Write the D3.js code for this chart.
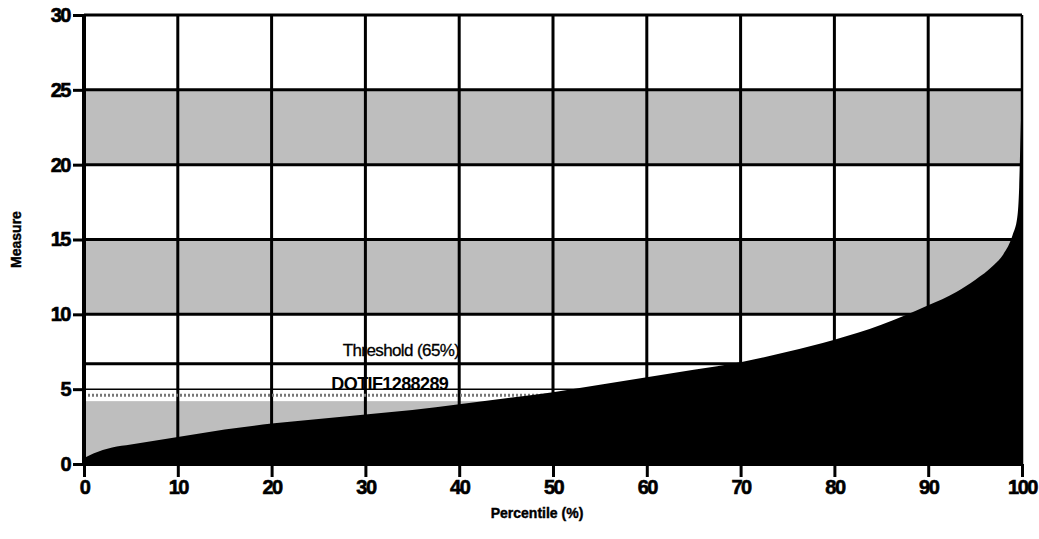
<!DOCTYPE html>
<html>
<head>
<meta charset="utf-8">
<script src="https://cdn.jsdelivr.net/npm/d3@7"></script>
<style>
  html, body { margin: 0; padding: 0; background: #fff; }
  svg { display: block; }
  .tick text { font-family: "Liberation Sans Narrow", "Liberation Sans", Arial, sans-serif; font-weight: bold; }
</style>
</head>
<body>
<svg id="chart" width="1039" height="539"></svg>
<script>
// ---- data ----
const percentile = [0, 1, 3, 5, 10, 15, 20, 25, 30, 35, 40, 45, 50, 55, 60, 65, 70, 75, 80, 85, 90, 93, 95, 97, 98, 99, 99.5, 99.7, 99.85, 100];
const measure    = [0.4, 0.7, 1.1, 1.3, 1.8, 2.3, 2.7, 3.0, 3.3, 3.6, 4.0, 4.4, 4.8, 5.3, 5.8, 6.3, 6.8, 7.5, 8.3, 9.3, 10.6, 11.5, 12.3, 13.3, 14.0, 15.3, 16.5, 18.5, 22, 25];
const xTicks = [0, 10, 20, 30, 40, 50, 60, 70, 80, 90, 100];
const yTicks = [0, 5, 10, 15, 20, 25, 30];
const bandLow  = [0, 10, 20];
const bandHigh = [4.2, 15, 25];
const thresholdValue = 6.7;
const thresholdLabel = "Threshold (65%)";
const sampleValue = 4.6;
const sampleLabel = "DOTIF1288289";
const xTitle = "Percentile (%)";
const yTitle = "Measure";

// ---- layout ----
const svg = d3.select("#chart");
const x = d3.scaleLinear().domain([0, 100]).range([84, 1022]);
const y = d3.scaleLinear().domain([0, 30]).range([464, 15]);

// bands
svg.append("g").selectAll("rect").data(bandLow).join("rect")
  .attr("x", x(0)).attr("width", x(100) - x(0))
  .attr("y", (d, i) => y(bandHigh[i]))
  .attr("height", (d, i) => y(d) - y(bandHigh[i]))
  .attr("fill", "#bebebe");

// grid
const grid = svg.append("g").attr("stroke", "#000");
grid.selectAll("line.v").data(xTicks).join("line")
  .attr("x1", d => x(d)).attr("x2", d => x(d))
  .attr("y1", y(30)).attr("y2", y(0))
  .attr("stroke-width", d => d === 100 ? 2.5 : 3);
grid.selectAll("line.h").data(yTicks.filter(d => d !== 5)).join("line")
  .attr("x1", x(0)).attr("x2", x(100))
  .attr("y1", d => y(d)).attr("y2", d => y(d))
  .attr("stroke-width", 3);
grid.append("line")
  .attr("x1", x(0)).attr("x2", x(100))
  .attr("y1", y(5)).attr("y2", y(5))
  .attr("stroke-width", 1.5);
// sample line (dotted)
svg.append("line")
  .attr("x1", x(0)).attr("x2", x(100))
  .attr("y1", y(sampleValue)).attr("y2", y(sampleValue))
  .attr("stroke", "#777").attr("stroke-width", 3)
  .attr("stroke-dasharray", "2,2");
// threshold line
svg.append("line")
  .attr("x1", x(0)).attr("x2", x(100))
  .attr("y1", y(thresholdValue)).attr("y2", y(thresholdValue))
  .attr("stroke", "#000").attr("stroke-width", 3);

// area
const pts = percentile.map((p, i) => [p, measure[i]]);
const area = d3.area().x(d => x(d[0])).y0(y(0)).y1(d => y(d[1])).curve(d3.curveMonotoneX);
svg.append("path").datum(pts).attr("d", area).attr("fill", "#000");

// labels
svg.append("text")
  .attr("x", x(33.8)).attr("y", y(thresholdValue) - 8)
  .attr("text-anchor", "middle")
  .attr("font-family", "Liberation Sans, Arial, sans-serif")
  .attr("font-size", 17).attr("letter-spacing", -0.6)
  .attr("stroke", "#000").attr("stroke-width", 0.3)
  .text(thresholdLabel);
svg.append("text")
  .attr("x", x(32.6)).attr("y", y(5) + 1)
  .attr("text-anchor", "middle")
  .attr("font-family", "Liberation Sans, Arial, sans-serif")
  .attr("font-weight", "bold")
  .attr("font-size", 18).attr("letter-spacing", -0.6)
  .text(sampleLabel);

// axes
const xAxis = svg.append("g").attr("transform", `translate(0,${y(0)})`)
  .call(d3.axisBottom(x).tickValues(xTicks).tickSize(13).tickPadding(3).tickFormat(d3.format("d")));
xAxis.select(".domain").attr("stroke-width", 4).attr("d", `M${x(0)},0H${x(100)}`);
xAxis.selectAll(".tick line").attr("stroke-width", 3);
xAxis.selectAll(".tick text").attr("font-size", 20).attr("letter-spacing", -1.5)
  .attr("stroke", "#000").attr("stroke-width", 0.6);

const yAxis = svg.append("g").attr("transform", `translate(${x(0)},0)`)
  .call(d3.axisLeft(y).tickValues(yTicks).tickSize(11).tickPadding(3).tickFormat(d3.format("d")));
yAxis.select(".domain").attr("stroke-width", 4).attr("d", `M0,${y(30)}V${y(0)}`);
yAxis.selectAll(".tick line").attr("stroke-width", 3);
yAxis.selectAll(".tick text").attr("font-size", 20).attr("letter-spacing", -1.5)
  .attr("stroke", "#000").attr("stroke-width", 0.6);

// titles
svg.append("text")
  .attr("x", (x(0) + x(100)) / 2 - 16).attr("y", 518)
  .attr("text-anchor", "middle")
  .attr("font-family", "Liberation Sans Narrow, Liberation Sans, Arial, sans-serif")
  .attr("font-weight", "bold").attr("font-size", 14)
  .attr("stroke", "#000").attr("stroke-width", 0.4)
  .text(xTitle);
svg.append("text")
  .attr("transform", `translate(21,${(y(0) + y(30)) / 2}) rotate(-90)`)
  .attr("text-anchor", "middle")
  .attr("font-family", "Liberation Sans Narrow, Liberation Sans, Arial, sans-serif")
  .attr("font-weight", "bold").attr("font-size", 14)
  .attr("stroke", "#000").attr("stroke-width", 0.4)
  .text(yTitle);
</script>
</body>
</html>
